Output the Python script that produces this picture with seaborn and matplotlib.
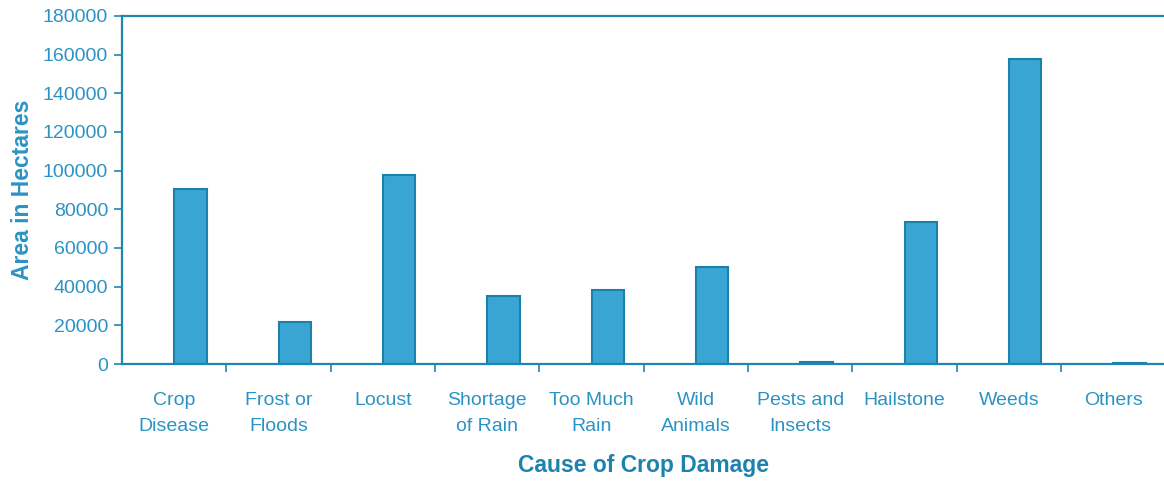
import pandas as pd
import numpy as np
import matplotlib.pyplot as plt
import seaborn as sns

# causes of crop damage and area lost (hectares)
causes = ["Crop\nDisease", "Frost or\nFloods", "Locust", "Shortage\nof Rain", "Too Much\nRain",
          "Wild\nAnimals", "Pests and\nInsects", "Hailstone", "Weeds", "Others"]
area = [90500, 21800, 97500, 35000, 38500, 50400, 900, 73500, 157700, 700]
yticks = [0, 20000, 40000, 60000, 80000, 100000, 120000, 140000, 160000, 180000]

df = pd.DataFrame({"cause": causes, "area": area})

sns.set_style("white")
plt.rcParams['font.family'] = ['Liberation Sans', 'DejaVu Sans']

text_col = "#2b93c3"
line_col = "#1f86b0"

fig = plt.figure(figsize=(11.64, 4.82), dpi=100)
ax = fig.add_axes([0.1048, 0.2448, 0.8952 + 0.0013, 0.7222])

sns.barplot(data=df, x="cause", y="area", ax=ax, width=0.31,
            color="#38a5d3", edgecolor="#1c80ab", linewidth=1.5, saturation=1)

# bars sit a little right of the slot centre in the original
for p in ax.patches:
    p.set_x(p.get_x() + 0.155)

ax.set_xlim(-0.5, 9.5)
ax.set_ylim(0, 180000)
ax.set_yticks(yticks)
ax.set_yticklabels([str(v) for v in yticks])

# tick marks between categories, none under the labels
ax.set_xticks(np.arange(0.5, 9.5, 1), minor=True)
ax.tick_params(axis="x", which="major", length=0, pad=20, labelsize=14, labelcolor=text_col)
ax.tick_params(axis="x", which="minor", bottom=True, length=6, width=1.2, color=line_col, direction="out")
ax.tick_params(axis="y", left=True, length=6, width=1.2, color=line_col, direction="out",
               pad=4, labelsize=14, labelcolor=text_col)
for lab in ax.get_xticklabels():
    lab.set_linespacing(1.7)

for side in ["left", "top", "bottom"]:
    ax.spines[side].set_color(line_col)
    ax.spines[side].set_linewidth(1.6)
ax.spines["right"].set_visible(False)

ax.set_xlabel("Cause of Crop Damage", fontsize=16.5, fontweight="bold", color="#1d82ad", labelpad=14)
ax.set_ylabel("Area in Hectares", fontsize=16.5, fontweight="bold", color=text_col, labelpad=6)

fig.savefig("out.png", dpi=100)
